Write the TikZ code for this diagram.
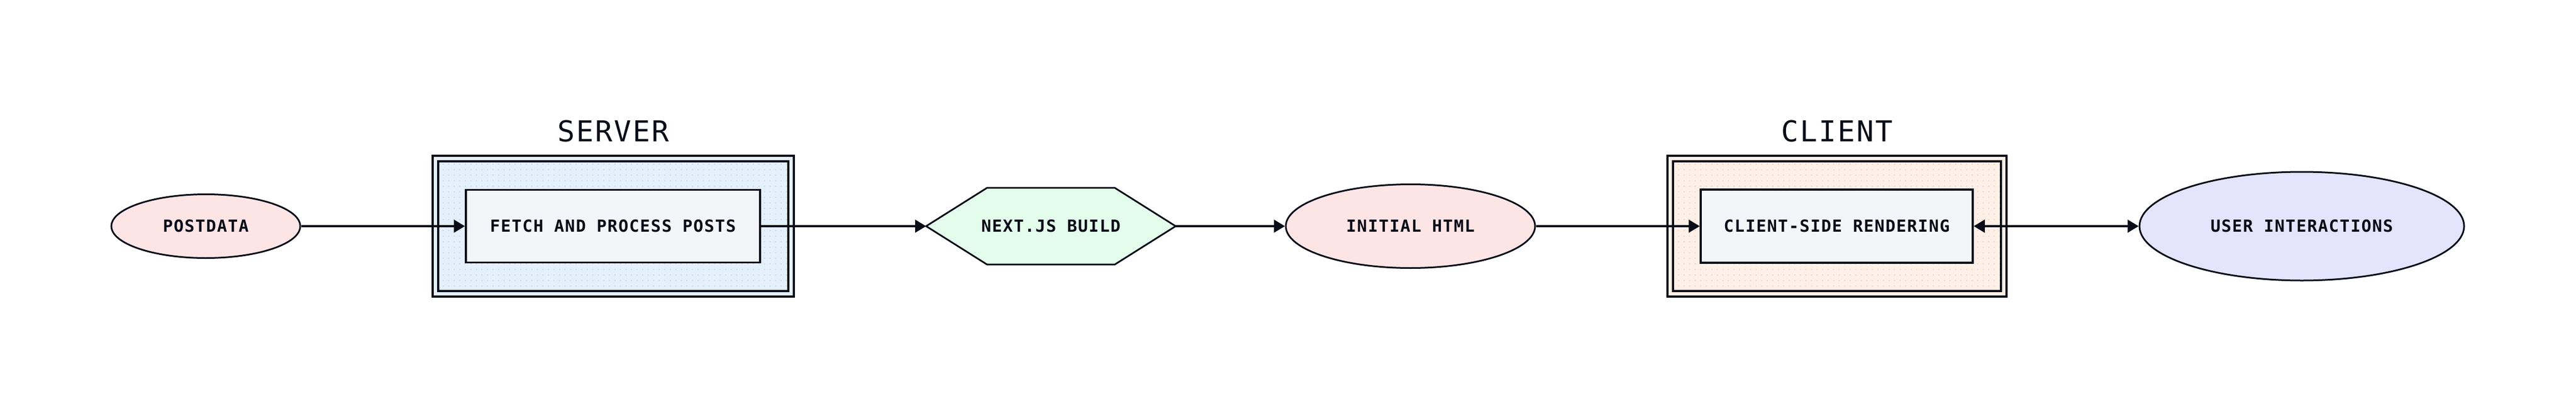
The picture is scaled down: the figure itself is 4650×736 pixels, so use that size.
\documentclass[tikz,border=0pt]{standalone}
\usepackage{fontspec}
\setmonofont[LetterSpace=5]{DejaVu Sans Mono}
\usetikzlibrary{shapes.geometric, arrows.meta, patterns.meta, backgrounds}

\definecolor{ink}{HTML}{0A0D18}
\definecolor{pinkfill}{HTML}{FDE5E6}
\definecolor{greenfill}{HTML}{E4FCEC}
\definecolor{violetfill}{HTML}{E4E4FC}
\definecolor{serverfill}{HTML}{E4F0FC}
\definecolor{clientfill}{HTML}{FEF0E6}
\definecolor{boxfill}{HTML}{F4F5F9}

\begin{document}
\begin{tikzpicture}[x=1pt, y=-1pt,
  txt/.style={font=\ttfamily\bfseries\fontsize{30}{36}\selectfont, text=ink},
  blob/.style={ellipse, draw=ink, line width=3pt, fill=#1, inner sep=0pt, txt},
  procbox/.style={rectangle, draw=ink, line width=3.5pt, fill=boxfill, inner sep=0pt, txt},
  cluster/.style={rectangle, draw=ink, line width=4pt, double=#1, double distance=6pt,
    preaction={fill=#1}, pattern={Dots[distance=10pt, radius=1.2pt]}, pattern color=#1!88!black, inner sep=0pt},
  clustertitle/.style={font=\ttfamily\fontsize{52}{60}\selectfont, text=ink},
  flow/.style={draw=ink, line width=3.5pt, -{Triangle[length=20pt, width=23pt]}},
  twoway/.style={draw=ink, line width=3.5pt, {Triangle[length=20pt, width=23pt]}-{Triangle[length=20pt, width=23pt]}}
]
\useasboundingbox (0,0) rectangle (4650,736);

% Clusters
\node[cluster=serverfill, minimum width=641.5pt, minimum height=243.5pt] (server) at (1106.75,408) {};
\node[clustertitle] (servertitle) at (1107,237) {SERVER};

\node[cluster=clientfill, minimum width=602pt, minimum height=243.5pt] (client) at (3316,408) {};
\node[clustertitle] (clienttitle) at (3316,237) {CLIENT};

% Nodes
\node[blob=pinkfill, minimum width=341pt, minimum height=115pt] (postdata) at (371.5,408) {POSTDATA};
\node[procbox, minimum width=531pt, minimum height=131pt] (fetch) at (1106.5,408) {FETCH AND PROCESS POSTS};
\node[txt, minimum width=450pt, minimum height=138pt, inner sep=0pt] (build) at (1897,408) {NEXT.JS BUILD};
\node[blob=pinkfill, minimum width=450pt, minimum height=151pt] (html) at (2546,408) {INITIAL HTML};
\node[procbox, minimum width=491pt, minimum height=132pt] (render) at (3315.5,408) {CLIENT-SIDE RENDERING};
\node[blob=violetfill, minimum width=586pt, minimum height=196pt] (user) at (4155,408) {USER INTERACTIONS};

% Hexagon behind the build label
\begin{scope}[on background layer]
\draw[ink, line width=3pt, fill=greenfill, line join=miter]
  (build.west) -- ([xshift=110pt]build.north west) -- ([xshift=-110pt]build.north east)
  -- (build.east) -- ([xshift=-110pt]build.south east) -- ([xshift=110pt]build.south west) -- cycle;
\end{scope}

% Connectors
\foreach \from/\to in {postdata/fetch, fetch/build, build/html, html/render}
  \draw[flow] (\from) -- (\to);
\draw[twoway] (render) -- (user);

\end{tikzpicture}
\end{document}
